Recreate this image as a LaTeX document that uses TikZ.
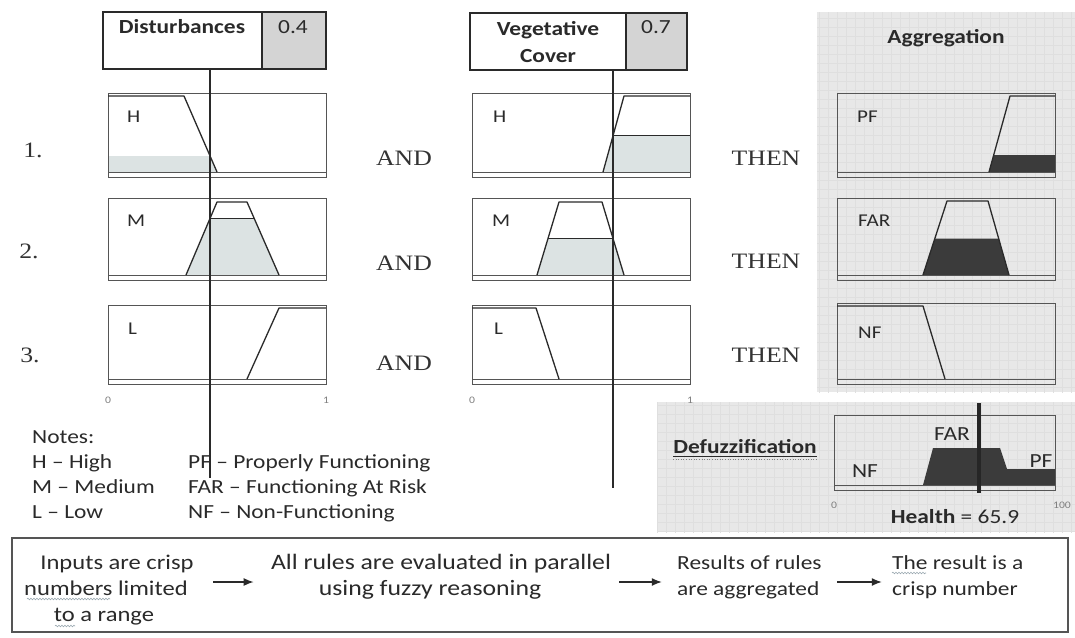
\documentclass[tikz,border=0pt]{standalone}
\usepackage{fontspec}
\setmainfont[FakeStretch=1.17]{Carlito}
\newfontfamily\serifrm[FakeStretch=1.17]{Liberation Serif}
\usetikzlibrary{fit,arrows.meta,decorations.pathmorphing}
\definecolor{ink}{HTML}{2A2A2A}
\definecolor{ink2}{HTML}{333333}
\definecolor{framec}{HTML}{555555}
\definecolor{shadel}{HTML}{DCE3E3}
\definecolor{shaded}{HTML}{3B3B3B}
\definecolor{panelc}{HTML}{E8E8E8}
\definecolor{gridc}{HTML}{DFDFDF}
\definecolor{valgray}{HTML}{D4D4D4}
\definecolor{spellc}{HTML}{9AA8B0}
\newcommand\mfbox[4]{\draw[frame] (#1,#2) rectangle (#3,#4); \draw[frame] (#1,#4-5) -- (#3,#4-5);}
\tikzset{
  frame/.style={draw=framec, line width=1pt},
  mf/.style={draw=ink, line width=1.3pt, line join=round},
  lightfill/.style={fill=shadel},
  darkfill/.style={fill=shaded},
  lbl/.style={anchor=base west, inner sep=0, font=\fontsize{18}{20}\selectfont, text=ink},
  serifx/.style={anchor=base, inner sep=0, font=\serifrm\fontsize{22}{24}\selectfont, text=ink2},
  axisl/.style={anchor=base, inner sep=0, font=\fontsize{10}{12}\selectfont, text=gray},
  txt/.style={anchor=base, inner sep=0, font=\fontsize{20}{24}\selectfont, text=ink},
  txtw/.style={anchor=base west, inner sep=0, font=\fontsize{20}{24}\selectfont, text=ink},
  btxt/.style={anchor=base, inner sep=0, font=\bfseries\fontsize{20}{24}\selectfont, text=ink},
  inbox/.style={draw=ink, line width=1.5pt, anchor=north west, inner sep=0, outer sep=0},
  probe/.style={draw=ink, line width=1.2pt},
  arr/.style={-{Latex[length=10pt,width=8pt]}, line width=1.4pt, draw=ink},
  spell/.style={draw=spellc, line width=0.6pt, decorate, decoration={snake, amplitude=0.8pt, segment length=3pt}},
}
\begin{document}
\begin{tikzpicture}[x=1pt,y=-1pt]
\useasboundingbox (0,0) rectangle (1075,637);
\fill[white] (0,0) rectangle (1075,637);

% panels
\fill[panelc] (817,12) rectangle (1075,392);
\fill[panelc] (657,402) rectangle (1075,532);
\begin{scope}
\clip (817,12) rectangle (1075,392);
\draw[gridc, line width=0.4pt, step=9pt] (810,0) grid (1080,400);
\end{scope}
\begin{scope}
\clip (657,402) rectangle (1075,532);
\draw[gridc, line width=0.4pt, step=9pt] (650,395) grid (1080,540);
\end{scope}

% input boxes
\node[inbox, fill=white, minimum width=159pt, minimum height=57pt] (distL) at (103,12) {};
\node[inbox, fill=valgray, minimum width=64pt, minimum height=57pt] (distV) at (262,12) {};
\node[btxt] (distT) at (182,33) {Disturbances};
\node[txt] (distN) at (293,33) {0.4};
\node[inbox, fill=white, minimum width=156pt, minimum height=57pt] (vegL) at (470,13) {};
\node[inbox, fill=valgray, minimum width=61pt, minimum height=57pt] (vegV) at (626,13) {};
\node[btxt] (vegT1) at (548,35) {Vegetative};
\node[btxt] (vegT2) at (548,62) {Cover};
\node[txt] (vegN) at (656,33) {0.7};

% column 1 (Disturbances)
\fill[lightfill] (108,172) -- (108,156) -- (210,156) -- (217,172) -- cycle;
\mfbox{108}{93}{326}{177}
\draw[mf] (108,96) -- (184,96) -- (217,172);
\fill[lightfill] (186,275) -- (210,218.5) -- (254.2,218.5) -- (279,275) -- cycle;
\mfbox{108}{198}{326}{280}
\draw[mf] (186,275) -- (217,202) -- (247,202) -- (279,275);
\draw[mf] (210,218.5) -- (254.2,218.5);
\mfbox{108}{305}{326}{384}
\draw[mf] (247,379) -- (279,308) -- (326,308);

% column 2 (Vegetative cover)
\fill[lightfill] (603,172) -- (613,135.8) -- (690,135.8) -- (690,172) -- cycle;
\mfbox{472}{93}{690}{177}
\draw[mf] (603,172) -- (624,96) -- (690,96);
\draw[mf] (613,135.8) -- (690,135.8);
\fill[lightfill] (537,275) -- (548,238.5) -- (613,238.5) -- (624,275) -- cycle;
\mfbox{472}{198}{690}{280}
\draw[mf] (537,275) -- (559,202) -- (602,202) -- (624,275);
\draw[mf] (548,238.5) -- (613,238.5);
\mfbox{472}{305}{690}{384}
\draw[mf] (472,308) -- (536,308) -- (559,379);

% column 3 (Aggregation)
\fill[darkfill] (989,172) -- (993.7,155) -- (1055,155) -- (1055,172) -- cycle;
\mfbox{837}{93}{1055}{177}
\draw[mf] (989,172) -- (1010,96) -- (1055,96);
\fill[darkfill] (923,275) -- (934.8,238.5) -- (998.6,238.5) -- (1009,275) -- cycle;
\mfbox{837}{198}{1055}{280}
\draw[mf] (923,275) -- (947,201) -- (988,201) -- (1009,275);
\mfbox{837}{303}{1055}{384}
\draw[mf] (837,306) -- (923,306) -- (945,379);

% defuzzification plot
\fill[darkfill] (923,485) -- (933,448) -- (1000,448) -- (1007,469) -- (1055,469) -- (1055,485) -- cycle;
\draw[frame] (834,415) rectangle (1055,490);
\draw[frame] (834,485) -- (1055,485);
\draw[draw=black!85, line width=4pt] (979,403) -- (979,493);

% probe lines
\coordinate (dEnd) at (210,478);
\coordinate (vEnd) at (613,488);
\draw[probe] (distL.south -| dEnd) -- (dEnd);
\draw[probe] (vegL.south -| vEnd) -- (vEnd);

% labels in plots
\node[lbl] (l1H) at (127,122) {H};
\node[lbl] (l1M) at (127,226) {M};
\node[lbl] (l1L) at (128,334) {L};
\node[lbl] (l2H) at (493,122) {H};
\node[lbl] (l2M) at (492,226) {M};
\node[lbl] (l2L) at (494,334) {L};
\node[lbl] (l3PF) at (857,122) {PF};
\node[lbl] (l3FAR) at (858,226) {FAR};
\node[lbl] (l3NF) at (858,338) {NF};

\node[axisl] (ax1a) at (108,403) {0};
\node[axisl] (ax1b) at (326,403) {1};
\node[axisl] (ax2a) at (472,403) {0};
\node[axisl] (ax2b) at (690,403) {1};
\node[axisl] (ax3a) at (834,508) {0};
\node[axisl] (ax3b) at (1062,508) {100};

% row numbers and connectives
\node[serifx] (r1) at (33,157.5) {1.};
\node[serifx] (r2) at (29,258) {2.};
\node[serifx] (r3) at (30,362) {3.};
\node[serifx] (and1) at (404,165) {AND};
\node[serifx] (and2) at (404,270) {AND};
\node[serifx] (and3) at (404,370) {AND};
\node[serifx] (then1) at (766,165) {THEN};
\node[serifx] (then2) at (766,268) {THEN};
\node[serifx] (then3) at (766,362) {THEN};

% aggregation / defuzz titles
\node[btxt] (aggT) at (946,43) {Aggregation};
\node[btxt] (defz) at (745,453) {Defuzzification};
\draw[ink, line width=1pt] ([yshift=-3.5pt]defz.base west) -- ([yshift=-3.5pt]defz.base east);
\draw[gray, line width=0.6pt, dotted] ([yshift=-6pt]defz.base west) -- ([yshift=-6pt]defz.base east);
\node[txt] (dFAR) at (952,440) {FAR};
\node[txt] (dNF) at (865,477) {NF};
\node[txt] (dPF) at (1041,467) {PF};
\node[txt] (health) at (955,523) {\textbf{Health} = 65.9};

% notes
\node[txtw] (notes) at (32,443) {Notes:};
\node[txtw] (nH) at (32,468) {H -- High};
\node[txtw] (nM) at (32,493) {M -- Medium};
\node[txtw] (nL) at (32,518) {L -- Low};
\node[txtw] (nPF) at (188,468) {PF -- Properly Functioning};
\node[txtw] (nFAR) at (188,493) {FAR -- Functioning At Risk};
\node[txtw] (nNF) at (188,518) {NF -- Non-Functioning};

% bottom process box
\draw[draw=framec, line width=1.5pt] (12,538) rectangle (1068,632);
\node[txt, font=\fontsize{21}{24}\selectfont] (t1a) at (117,569) {Inputs are crisp};
\node[txt, font=\fontsize{21}{24}\selectfont] (t1b) at (106,595) {numbers limited};
\node[txt, font=\fontsize{21}{24}\selectfont] (t1c) at (104,621) {to a range};
\node[txt, font=\fontsize{22}{24}\selectfont] (t2a) at (441,569) {All rules are evaluated in parallel};
\node[txt, font=\fontsize{22}{24}\selectfont] (t2b) at (430,595) {using fuzzy reasoning};
\node[txtw] (t3a) at (677,569) {Results of rules};
\node[txtw] (t3b) at (677,595) {are aggregated};
\node[txtw] (t4a) at (892,569) {The result is a};
\node[txtw] (t4b) at (892,595) {crisp number};
\node[fit=(t1a)(t1b)(t1c), inner sep=0] (b1) {};
\node[fit=(t2a)(t2b), inner sep=0] (b2) {};
\node[fit=(t3a)(t3b), inner sep=0] (b3) {};
\node[fit=(t4a)(t4b), inner sep=0] (b4) {};
\coordinate (ay) at (0,582);
\draw[arr] ([xshift=19pt]b1.east |- ay) -- ([xshift=-17pt]b2.west |- ay);
\draw[arr] ([xshift=8pt]b2.east |- ay) -- ([xshift=-15pt]b3.west |- ay);
\draw[arr] ([xshift=15pt]b3.east |- ay) -- ([xshift=-10pt]b4.west |- ay);
\draw[spell] (27,599) -- (110,599);
\draw[spell] (55,626) -- (75,626);
\draw[spell] (892,573) -- (926,573);
\end{tikzpicture}
\end{document}
